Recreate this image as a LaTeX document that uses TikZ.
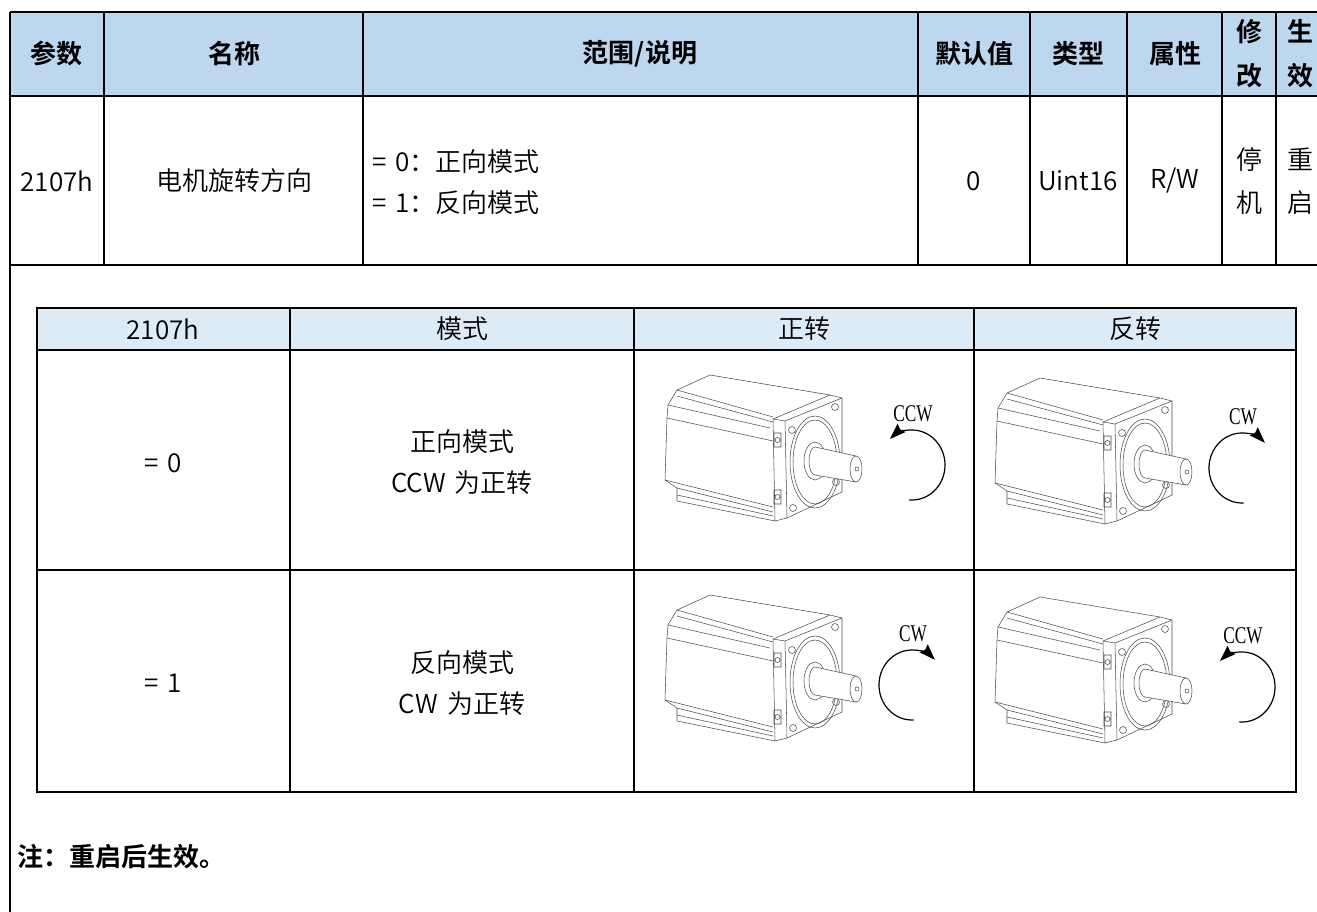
\documentclass[tikz,border=0pt]{standalone}
\usepackage{fontspec}
\setmainfont{Noto Sans CJK SC}[UprightFont={* DemiLight}, BoldFont={* Bold}]
\newfontfamily\lblfont{Liberation Serif}[FakeStretch=0.72]
\usetikzlibrary{arrows.meta}
\definecolor{headblue}{HTML}{BDD7EE}
\definecolor{subblue}{HTML}{DDEBF7}
\newcommand{\eqgap}{\hspace{0.35em}}
\begin{document}
\begin{tikzpicture}[x=0.75pt, y=-0.75pt,
    cell/.style = {inner sep=0pt, align=center, font=\fontsize{19.5}{31}\selectfont},
    headcell/.style = {cell, font=\fontsize{19.5}{33}\selectfont\bfseries},
    tabline/.style = {line width=1.7pt},
    subline/.style = {line width=1.3pt},
    motorline/.style = {line width=0.4pt, draw=black!70},
    spin/.style = {line width=0.9pt, -{Stealth[length=12pt, width=8.5pt, inset=1.5pt]}},
    spinlabel/.style = {inner sep=0pt, font=\lblfont\fontsize{18}{20}\selectfont},
    motor/.pic = {
        \coordinate (-axis) at (247,90);
        \coordinate (-tag) at (248,39);
        % body
        \draw[motorline] (45,0) -- (165,20);
        \draw[motorline] (45,0) -- (12,15) -- (3,30) -- (2,43) -- (0,105) -- (12,113) -- (12,126);
        \draw[motorline] (12,15) -- (108,42);
        \draw[motorline] (12,21) -- (108,47);
        \draw[motorline] (3,30) -- (105,53);
        \draw[motorline] (2,43) -- (108,66);
        \draw[motorline] (0,105) -- (108,132);
        \draw[motorline] (12,113) -- (108,137);
        \draw[motorline] (12,120) -- (108,141);
        \draw[motorline] (12,126) -- (110,146);
        % flange
        \draw[motorline, fill=white] (108,44) -- (165,20) -- (177,23) -- (177,117) -- (122,143) -- (110,146) -- cycle;
        \draw[motorline] (108,44) -- (120,46) -- (177,23);
        \draw[motorline] (120,46) -- (122,143);
        \foreach \p in {(127,55),(170,32),(171,107),(128,133)}
            \draw[motorline] \p circle[radius=3.5];
        \draw[motorline] (109,58) rectangle (116,72) (112.5,65) circle[radius=2.5];
        \draw[motorline] (109,115) rectangle (116,129) (112.5,122) circle[radius=2.5];
        % boss and shaft
        \draw[motorline] (150,87) ellipse[x radius=25, y radius=46];
        \draw[motorline] (150,87) ellipse[x radius=22, y radius=42];
        \draw[motorline] (150,86) ellipse[x radius=11, y radius=19];
        \draw[motorline, fill=white] (150,72) -- (191,81) -- (191,107) -- (150,100)
            arc[start angle=90, end angle=270, x radius=6, y radius=14] -- cycle;
        \draw[motorline, fill=white] (191,94) ellipse[x radius=6, y radius=13];
        \draw[motorline] (192,94) circle[radius=2];
    }]
    \useasboundingbox (0,0) rectangle (1317,912);

    % outer table
    \fill[headblue] (10,12) rectangle (1317,96);
    \draw[tabline] (10,12) -- (1317,12);
    \draw[tabline] (10,96) -- (1317,96);
    \draw[tabline] (10,265) -- (1317,265);
    \draw[tabline] (10,12) -- (10,912);
    \foreach \x in {104,363,918,1030,1127,1222,1276}
        \draw[tabline] (\x,12) -- (\x,265);

    \node[headcell] (hpar) at (57,54) {参数};
    \node[headcell] (hname) at (234,54) {名称};
    \node[headcell] (hrange) at (640,54) {范围/说明};
    \node[headcell] (hdef) at (974,54) {默认值};
    \node[headcell] (htype) at (1078,54) {类型};
    \node[headcell] (hattr) at (1175,54) {属性};
    \node[headcell] (hmod) at (1249,54) {修\\改};
    \node[headcell] (heff) at (1300,54) {生\\效};

    \node[cell] (par) at (57,181) {2107h};
    \node[cell] (name) at (234,181) {电机旋转方向};
    \node[cell, align=left, anchor=west] (range) at (372,182) {=\eqgap 0：正向模式\\=\eqgap 1：反向模式};
    \node[cell] (def) at (974,181) {0};
    \node[cell] (type) at (1078,181) {Uint16};
    \node[cell] (attr) at (1175,181) {R/W};
    \node[cell, font=\fontsize{19.5}{32}\selectfont] (mod) at (1249,181) {停\\机};
    \node[cell, font=\fontsize{19.5}{32}\selectfont] (eff) at (1300,181) {重\\启};

    % inner table
    \fill[subblue] (37,308) rectangle (1296,350);
    \draw[subline] (37,308) rectangle (1296,792);
    \foreach \y in {350,570}
        \draw[subline] (37,\y) -- (1296,\y);
    \foreach \x in {290,634,974}
        \draw[subline] (\x,308) -- (\x,792);

    \node[cell] (sval) at (163,329) {2107h};
    \node[cell] (smode) at (462,329) {模式};
    \node[cell] (sfwd) at (804,329) {正转};
    \node[cell] (srev) at (1135,329) {反转};

    \node[cell] (v0) at (163,463) {=\eqgap 0};
    \node[cell] (m0) at (462,462) {正向模式\\CCW\eqgap 为正转};
    \node[cell] (v1) at (163,683) {=\eqgap 1};
    \node[cell] (m1) at (462,683) {反向模式\\CW\eqgap 为正转};

    % motors
    \pic (mA) at (665,375) {motor};
    \pic (mB) at (995,378) {motor};
    \pic (mC) at (665,595) {motor};
    \pic (mD) at (995,597) {motor};

    \node[spinlabel] (tA) at (mA-tag) {CCW};
    \node[spinlabel] (tB) at (mB-tag) {CW};
    \node[spinlabel] (tC) at (mC-tag) {CW};
    \node[spinlabel] (tD) at (mD-tag) {CCW};

    \draw[spin] (mA-axis) ++(95:33 and 35) arc[start angle=95, end angle=-132, x radius=33, y radius=35];
    \draw[spin] (mB-axis) ++(87:33 and 35) arc[start angle=87, end angle=314, x radius=33, y radius=35];
    \draw[spin] (mC-axis) ++(87:33 and 35) arc[start angle=87, end angle=314, x radius=33, y radius=35];
    \draw[spin] (mD-axis) ++(95:33 and 35) arc[start angle=95, end angle=-132, x radius=33, y radius=35];

    \node[headcell, anchor=west] (note) at (17,857) {注：重启后生效。};
\end{tikzpicture}
\end{document}
